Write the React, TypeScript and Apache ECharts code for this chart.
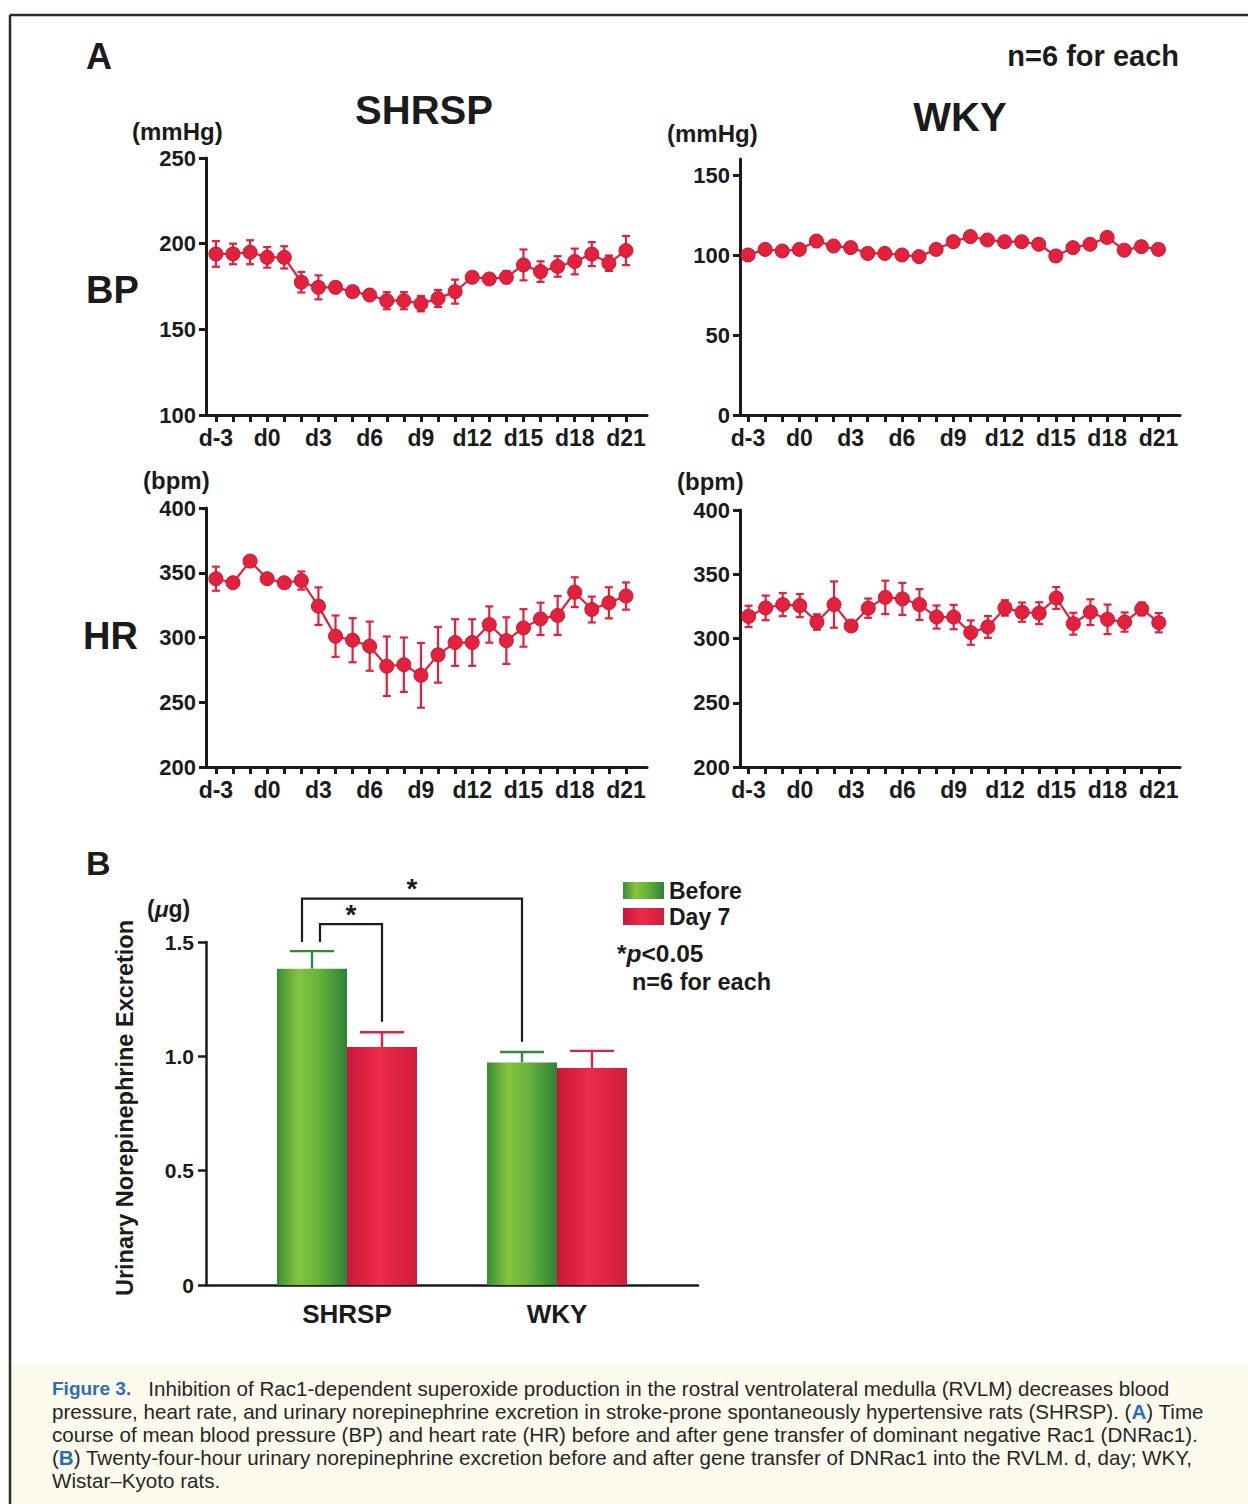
import React, { useEffect, useRef } from "react";
import * as echarts from "echarts";

const FONT = '"Liberation Sans", Arial, Helvetica, sans-serif';
const NARROW = '"Liberation Sans Narrow", "Liberation Sans", Arial, sans-serif';
const RED = "#e3213d";
const RED_EDGE = "#c9152f";
const INK = "#1b1b1b";
const BLUE = "#2f6db5";

// ---- Panel A data ----
const days = [-3, -2, -1, 0, 1, 2, 3, 4, 5, 6, 7, 8, 9, 10, 11, 12, 13, 14, 15, 16, 17, 18, 19, 20, 21];
const dayLabels = [-3, 0, 3, 6, 9, 12, 15, 18, 21];

const bpShrsp = [194, 194, 195, 192, 192, 177.5, 174.5, 174.5, 172, 170, 166.7, 166.7, 165, 168, 172, 180.4, 179.4, 180.4, 187.6, 183.7, 186.7, 189.6, 193.9, 188.6, 196];
const bpShrspSem = [7.5, 6, 7, 6, 6.5, 6, 7, 2, 2, 2.5, 5, 5, 4.5, 5, 7, 3, 2, 3.5, 9, 6, 6, 7.5, 7, 4.5, 8.5];

const bpWky = [100, 103.5, 102.5, 103.5, 108.7, 105.6, 104.6, 101, 101, 100, 99, 103.5, 108.3, 111.5, 109.4, 108.3, 108.3, 106.7, 99.4, 104.6, 106.7, 111, 103, 105.2, 103.5];
const bpWkySem = [1.5, 1.5, 1.2, 1.5, 1.8, 1.5, 1.4, 1.5, 1.6, 1.5, 1.8, 1.5, 1.6, 1.8, 1.5, 1.4, 1.5, 1.6, 1.8, 1.5, 1.4, 1.6, 1.5, 1.4, 1.6];

const hrShrsp = [345.4, 342.3, 359, 345.4, 342.3, 344, 324.2, 301, 297.9, 293.3, 277.8, 279, 270.8, 286.6, 296.1, 296.1, 310, 297.6, 307.4, 314.4, 317, 335, 321.6, 326.8, 332];
const hrShrspSem = [9.3, 2, 2.5, 2, 2, 7, 14.5, 16, 17, 19, 23, 21, 25, 21.5, 18, 18, 14, 18, 14.5, 12.5, 15, 11.5, 10, 12, 10.5];

const hrWky = [317.2, 323.8, 326.4, 325.6, 312.8, 326.4, 309.7, 323.6, 332, 330.8, 326.4, 316.7, 316.7, 304.6, 309, 323.8, 320.5, 319.7, 331.5, 311.5, 320.5, 314.9, 312.8, 323, 312.3];
const hrWkySem = [8.3, 9.6, 9, 9, 6, 18, 2, 7.5, 13, 12.5, 12, 9, 9.5, 9.5, 8.5, 6, 7.5, 8.5, 8.5, 8.5, 10, 11.5, 7.5, 5, 7.5];

const bpTicksShrsp = [100, 150, 200, 250];
const bpTicksWky = [0, 50, 100, 150];
const hrTicks = [200, 250, 300, 350, 400];

// ---- Panel B data ----
const groups = ["SHRSP", "WKY"];
const neBefore = [1.383, 0.973];
const neBeforeSem = [0.077, 0.046];
const neDay7 = [1.041, 0.949];
const neDay7Sem = [0.064, 0.075];

// significance brackets: [groupIndex, barSide(-1 before / +1 day7)]
const brackets = [
  { from: [0, -1], to: [1, -1], top: 1.69, fromEnd: 1.5, toEnd: 1.064 },
  { from: [0, -1], to: [0, 1], top: 1.578, fromEnd: 1.5, toEnd: 1.151 },
];

const captionLines = [
  "{f|Figure 3.}   Inhibition of Rac1-dependent superoxide production in the rostral ventrolateral medulla (RVLM) decreases blood",
  "pressure, heart rate, and urinary norepinephrine excretion in stroke-prone spontaneously hypertensive rats (SHRSP). ({b|A}) Time",
  "course of mean blood pressure (BP) and heart rate (HR) before and after gene transfer of dominant negative Rac1 (DNRac1).",
  "({b|B}) Twenty-four-hour urinary norepinephrine excretion before and after gene transfer of DNRac1 into the RVLM. d, day; WKY,",
  "Wistar–Kyoto rats.",
];

// ---- layout ----
const panels = [
  { left: 206, top: 158, width: 441, height: 257, xMin: -3.58, xMax: 22.23, yMin: 100, yMax: 250, ticks: bpTicksShrsp, mean: bpShrsp, sem: bpShrspSem },
  { left: 740, top: 159, width: 440, height: 256, xMin: -3.47, xMax: 22.26, yMin: 0, yMax: 160, ticks: bpTicksWky, mean: bpWky, sem: bpWkySem },
  { left: 206, top: 508, width: 441, height: 259, xMin: -3.58, xMax: 22.23, yMin: 200, yMax: 400, ticks: hrTicks, mean: hrShrsp, sem: hrShrspSem },
  { left: 740, top: 510, width: 440, height: 257, xMin: -3.5, xMax: 22.24, yMin: 200, yMax: 400, ticks: hrTicks, mean: hrWky, sem: hrWkySem },
];
const BAR_W = 70;
const bracketNudge = [[-10, 0], [8, 0]];

function txt(x: number, y: number, text: string, fontSize: number, extra: any = {}) {
  const { align = "left", verticalAlign = "middle", rotation, rich, fontWeight = "bold", fill = INK, fontFamily = FONT } = extra;
  const el: any = {
    type: "text",
    x,
    y,
    silent: true,
    style: { text, fontSize, fontWeight, fontFamily, fill, align, verticalAlign, rich },
  };
  if (rotation) el.rotation = rotation;
  return el;
}

export default function App() {
  const ref = useRef<HTMLDivElement>(null);

  useEffect(() => {
    if (!ref.current) return;
    const chart = echarts.init(ref.current, undefined, { renderer: "svg" });

    const axisLineStyle = { color: INK, width: 3 };
    const labelStyle = { fontFamily: FONT, fontWeight: "bold" as const, color: INK };

    const grids: any[] = [];
    const xAxes: any[] = [];
    const yAxes: any[] = [];
    const series: any[] = [];

    panels.forEach((p, i) => {
      grids.push({ left: p.left, top: p.top, width: p.width, height: p.height });
      xAxes.push({
        type: "value",
        gridIndex: i,
        min: p.xMin,
        max: p.xMax,
        splitLine: { show: false },
        axisLine: { show: true, onZero: false, lineStyle: axisLineStyle },
        axisTick: { show: true, customValues: days, length: 7, lineStyle: { color: INK, width: 3 } },
        axisLabel: { ...labelStyle, fontSize: 23, margin: 11, customValues: dayLabels, formatter: (v: number) => "d" + v },
      });
      yAxes.push({
        type: "value",
        gridIndex: i,
        min: p.yMin,
        max: p.yMax,
        splitLine: { show: false },
        axisLine: { show: true, onZero: false, lineStyle: axisLineStyle },
        axisTick: { show: true, customValues: p.ticks, length: 7, lineStyle: { color: INK, width: 3 } },
        axisLabel: { ...labelStyle, fontSize: 22, margin: 10, customValues: p.ticks },
      });
      series.push({
        type: "custom",
        xAxisIndex: i,
        yAxisIndex: i,
        z: 2,
        data: days.map((d, k) => [d, p.mean[k] - p.sem[k], p.mean[k] + p.sem[k]]),
        encode: { x: 0, y: [1, 2] },
        renderItem: (_params: any, api: any) => {
          const x = api.value(0);
          const lo = api.coord([x, api.value(1)]);
          const hi = api.coord([x, api.value(2)]);
          const cap = 4;
          const style = { stroke: RED, lineWidth: 2.2 };
          return {
            type: "group",
            children: [
              { type: "line", shape: { x1: lo[0], y1: lo[1], x2: hi[0], y2: hi[1] }, style },
              { type: "line", shape: { x1: hi[0] - cap, y1: hi[1], x2: hi[0] + cap, y2: hi[1] }, style },
              { type: "line", shape: { x1: lo[0] - cap, y1: lo[1], x2: lo[0] + cap, y2: lo[1] }, style },
            ],
          };
        },
      });
      series.push({
        type: "line",
        xAxisIndex: i,
        yAxisIndex: i,
        z: 3,
        data: days.map((d, k) => [d, p.mean[k]]),
        symbol: "circle",
        symbolSize: 14,
        itemStyle: { color: RED, borderColor: RED_EDGE, borderWidth: 1 },
        lineStyle: { color: RED, width: 2.2 },
      });
    });

    // Panel B: grid 4 (bars, category), grid 5 (axes frame)
    grids.push({ left: 242, top: 942, width: 420, height: 343 });
    grids.push({ left: 206, top: 942, width: 492, height: 343 });
    xAxes.push({
      type: "category",
      gridIndex: 4,
      data: groups,
      axisLine: { show: false },
      axisTick: { show: false },
      axisLabel: { ...labelStyle, fontSize: 26, margin: 16 },
    });
    yAxes.push({ type: "value", gridIndex: 4, min: 0, max: 1.5, show: false });
    xAxes.push({
      type: "value",
      gridIndex: 5,
      min: 0,
      max: 1,
      axisLine: { show: true, lineStyle: { color: INK, width: 2.5 } },
      axisTick: { show: false },
      axisLabel: { show: false },
      splitLine: { show: false },
    });
    yAxes.push({
      type: "value",
      gridIndex: 5,
      min: 0,
      max: 1.5,
      interval: 0.5,
      axisLine: { show: true, lineStyle: { color: INK, width: 2.5 } },
      axisTick: { show: true, length: 8, lineStyle: { color: INK, width: 2.5 } },
      axisLabel: { ...labelStyle, fontSize: 21, margin: 12, formatter: (v: number) => (v === 0 ? "0" : v.toFixed(1)) },
      splitLine: { show: false },
    });

    const greenGrad = new echarts.graphic.LinearGradient(0, 0, 1, 0, [
      { offset: 0, color: "#3b8c37" },
      { offset: 0.3, color: "#86c43f" },
      { offset: 0.6, color: "#66b23b" },
      { offset: 1, color: "#2e8235" },
    ]);
    const redGrad = new echarts.graphic.LinearGradient(0, 0, 1, 0, [
      { offset: 0, color: "#c8163a" },
      { offset: 0.45, color: "#ec2c4a" },
      { offset: 1, color: "#d11b3d" },
    ]);

    series.push({
      name: "Before",
      type: "bar",
      xAxisIndex: 4,
      yAxisIndex: 4,
      barWidth: BAR_W,
      barGap: "0%",
      data: neBefore,
      itemStyle: { color: greenGrad },
    });
    series.push({
      name: "Day 7",
      type: "bar",
      xAxisIndex: 4,
      yAxisIndex: 4,
      barWidth: BAR_W,
      barGap: "0%",
      data: neDay7,
      itemStyle: { color: redGrad },
    });

    const barErr = (vals: number[], sems: number[], side: number, color: string) => ({
      type: "custom",
      xAxisIndex: 4,
      yAxisIndex: 4,
      z: 1,
      data: groups.map((_g, i) => [i, vals[i], vals[i] + sems[i]]),
      encode: { x: 0, y: [1, 2] },
      renderItem: (_params: any, api: any) => {
        const c = api.coord([api.value(0), api.value(1)]);
        const t = api.coord([api.value(0), api.value(2)]);
        const x = c[0] + (side * BAR_W) / 2;
        const cap = 22;
        const style = { stroke: color, lineWidth: 2.4 };
        return {
          type: "group",
          children: [
            { type: "line", shape: { x1: x, y1: c[1], x2: x, y2: t[1] }, style },
            { type: "line", shape: { x1: x - cap, y1: t[1], x2: x + cap, y2: t[1] }, style },
          ],
        };
      },
    });
    series.push(barErr(neBefore, neBeforeSem, -1, "#2f8a3a"));
    series.push(barErr(neDay7, neDay7Sem, 1, "#e0223e"));

    series.push({
      type: "custom",
      xAxisIndex: 4,
      yAxisIndex: 4,
      z: 4,
      data: brackets.map((b, i) => [i, b.top]),
      encode: { x: 0, y: 1 },
      renderItem: (params: any, api: any) => {
        const b = brackets[params.dataIndex];
        const n = bracketNudge[params.dataIndex];
        const a0 = api.coord([b.from[0], b.fromEnd]);
        const b0 = api.coord([b.to[0], b.toEnd]);
        const topY = api.coord([b.from[0], b.top])[1];
        const xa = a0[0] + (b.from[1] * BAR_W) / 2 + n[0];
        const xb = b0[0] + (b.to[1] * BAR_W) / 2 + n[1];
        const style = { stroke: INK, lineWidth: 2.2, fill: "none" };
        return {
          type: "group",
          children: [
            { type: "polyline", shape: { points: [[xa, a0[1]], [xa, topY], [xb, topY], [xb, b0[1]]] }, style },
            {
              type: "text",
              style: { text: "*", x: (xa + xb) / 2, y: topY - 10, fontSize: 28, fontWeight: "bold", fontFamily: FONT, fill: INK, align: "center", verticalAlign: "middle" },
            },
          ],
        };
      },
    });

    const graphic: any[] = [
      // frame
      { type: "rect", silent: true, z: -10, shape: { x: 10, y: 1365, width: 1238, height: 139 }, style: { fill: "#fcfaed" } },
      { type: "line", silent: true, shape: { x1: 10, y1: 15, x2: 1248, y2: 15 }, style: { stroke: "#2a2a2a", lineWidth: 2.5 } },
      { type: "line", silent: true, shape: { x1: 10, y1: 15, x2: 10, y2: 1504 }, style: { stroke: "#2a2a2a", lineWidth: 2.5 } },
      // panel A labels
      txt(86, 56, "A", 36),
      txt(1179, 56, "n=6 for each", 29, { align: "right" }),
      txt(424, 110, "SHRSP", 40, { align: "center" }),
      txt(960, 117, "WKY", 40, { align: "center" }),
      txt(132, 131, "(mmHg)", 24),
      txt(667, 133, "(mmHg)", 24),
      txt(86, 290, "BP", 38),
      txt(83, 636, "HR", 38),
      txt(143, 480, "(bpm)", 24),
      txt(677, 481, "(bpm)", 24),
      // panel B labels
      txt(86, 863, "B", 34),
      txt(147, 909, "({m|μ}g)", 23, { rich: { m: { fontStyle: "italic", fontWeight: "bold", fontSize: 23, fontFamily: FONT, fill: INK } } }),
      txt(125, 1108, "Urinary Norepinephrine Excretion", 23.5, { align: "center", rotation: Math.PI / 2 }),
      txt(617, 953, "*{p|p}<0.05", 24.5, { rich: { p: { fontStyle: "italic", fontWeight: "bold", fontSize: 24.5, fontFamily: FONT, fill: INK } } }),
      txt(632, 982, "n=6 for each", 23.5),
      // caption
      ...captionLines.map((line, i) =>
        txt(52, 1388 + i * 23, line, 20.6, {
          fontWeight: "normal",
          fill: "#262626",
          rich: {
            f: { fill: BLUE, fontWeight: "bold", fontSize: 19, fontFamily: NARROW },
            b: { fill: BLUE, fontWeight: "bold", fontSize: 20.6, fontFamily: FONT },
          },
        })
      ),
    ];

    chart.setOption({
      animation: false,
      backgroundColor: "#ffffff",
      grid: grids,
      xAxis: xAxes,
      yAxis: yAxes,
      series,
      legend: {
        data: ["Before", "Day 7"],
        orient: "vertical",
        left: 618,
        top: 874,
        icon: "rect",
        itemWidth: 41,
        itemHeight: 17,
        itemGap: 3,
        selectedMode: false,
        textStyle: { fontFamily: FONT, fontWeight: "bold", fontSize: 23, color: INK },
      },
      graphic,
    });

    return () => chart.dispose();
  }, []);

  return (
    <div
      ref={ref}
      style={{ position: "absolute", left: 0, top: 0, width: 1248, height: 1504, background: "#fff" }}
    />
  );
}
